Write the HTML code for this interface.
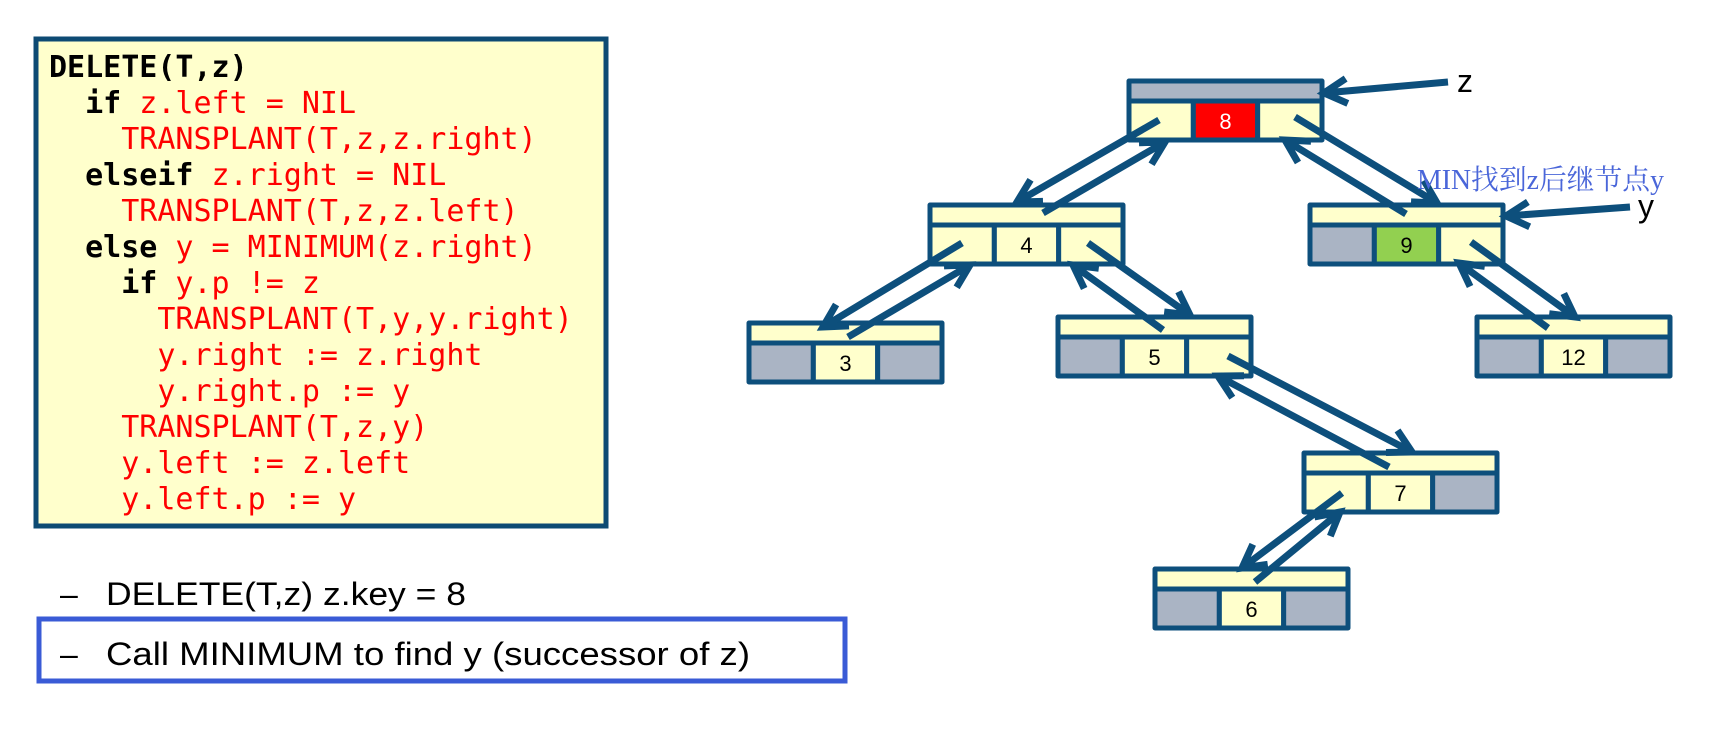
<!DOCTYPE html>
<html><head><meta charset="utf-8">
<style>
html,body{margin:0;padding:0;background:#fff;}
svg{display:block;}
.code{font-family:"DejaVu Sans Mono","Liberation Mono",monospace;font-size:30px;}
.kw{font-weight:bold;fill:#000;}
.rd{fill:#ff0000;}
</style></head>
<body>
<svg id="s" width="1733" height="729" viewBox="0 0 1733 729" xmlns="http://www.w3.org/2000/svg">
  <rect x="36" y="39" width="570" height="487" fill="#ffffcc" stroke="#0d4a73" stroke-width="5"/>
  <g class="code" id="code"></g>

  <text x="60" y="605" font-family="Liberation Sans, sans-serif" font-size="32">–</text>
  <text x="106" y="605" font-family="Liberation Sans, sans-serif" font-size="32" textLength="360" lengthAdjust="spacingAndGlyphs">DELETE(T,z) z.key = 8</text>
  <rect x="39" y="619" width="806" height="62" fill="none" stroke="#3a5bd6" stroke-width="5"/>
  <text x="60" y="665" font-family="Liberation Sans, sans-serif" font-size="32">–</text>
  <text x="106" y="665" font-family="Liberation Sans, sans-serif" font-size="32" textLength="644" lengthAdjust="spacingAndGlyphs">Call MINIMUM to find y (successor of z)</text>

  <g id="nodes"></g>
  <g id="arrows"></g>

  <text x="1457" y="92" font-family="Liberation Sans, sans-serif" font-size="32">z</text>
  <text x="1638" y="217" font-family="Liberation Sans, sans-serif" font-size="32">y</text>
  <text x="1417" y="189" font-family="Liberation Serif, Noto Serif CJK SC, serif" font-size="28" fill="#4a66d9" textLength="247" lengthAdjust="spacingAndGlyphs">MIN找到z后继节点y</text>
</svg>
<script>
const codeLines = [
  [0,[["DELETE(T,z)","kw"]]],
  [2,[["if ","kw"],["z.left = NIL","rd"]]],
  [4,[["TRANSPLANT(T,z,z.right)","rd"]]],
  [2,[["elseif ","kw"],["z.right = NIL","rd"]]],
  [4,[["TRANSPLANT(T,z,z.left)","rd"]]],
  [2,[["else ","kw"],["y = MINIMUM(z.right)","rd"]]],
  [4,[["if ","kw"],["y.p != z","rd"]]],
  [6,[["TRANSPLANT(T,y,y.right)","rd"]]],
  [6,[["y.right := z.right","rd"]]],
  [6,[["y.right.p := y","rd"]]],
  [4,[["TRANSPLANT(T,z,y)","rd"]]],
  [4,[["y.left := z.left","rd"]]],
  [4,[["y.left.p := y","rd"]]]
];
const NS="http://www.w3.org/2000/svg";
const cg=document.getElementById('code');
codeLines.forEach((ln,i)=>{
  const t=document.createElementNS(NS,'text');
  t.setAttribute('x',49+ln[0]*18.06);
  t.setAttribute('y',77+i*36);
  
  
  t.setAttribute('xml:space','preserve');
  ln[1].forEach(p=>{const s=document.createElementNS(NS,'tspan');s.setAttribute('class',p[1]);s.textContent=p[0];t.appendChild(s);});
  cg.appendChild(t);
});

const nodeKeys = ["8","4","9","3","5","12","7","6"];
const nodeX = [1129,930,1310,749,1058,1477,1304,1155];
const nodeY = [81,205,205,323,317,317,453,569];
const Y="#ffffcc",G="#aab4c4";
const nodeFills = [[G,Y,"#ff0000",Y],[Y,Y,Y,Y],[Y,G,"#92d050",Y],[Y,G,Y,G],[Y,G,Y,Y],[Y,G,Y,G],[Y,Y,Y,G],[Y,G,Y,G]];
const ng=document.getElementById('nodes');
const W=193,H=59,TB=20,C="#0d4f7c";
function rect(g,x,y,w,h,f){const r=document.createElementNS(NS,'rect');r.setAttribute('x',x);r.setAttribute('y',y);r.setAttribute('width',w);r.setAttribute('height',h);r.setAttribute('fill',f);r.setAttribute('stroke',C);r.setAttribute('stroke-width',5);r.setAttribute('stroke-linejoin','round');g.appendChild(r);return r;}
nodeKeys.forEach((k,i)=>{
  const g=document.createElementNS(NS,'g');
  
  
  const x=nodeX[i],y=nodeY[i],f=nodeFills[i];
  rect(g,x,y,W,TB,f[0]);
  const cw=W/3;
  for(let c=0;c<3;c++) rect(g,x+c*cw,y+TB,cw,H-TB,f[c+1]);
  const t=document.createElementNS(NS,'text');
  t.setAttribute('x',x+W/2);t.setAttribute('y',y+TB+28);
  t.setAttribute('text-anchor','middle');
  t.setAttribute('font-family','Liberation Sans, sans-serif');
  t.setAttribute('font-size','22');
  t.setAttribute('fill',i===0?'#fff':'#000');
  
  
  t.textContent=k;
  g.appendChild(t);
  ng.appendChild(g);
});

const arrowSegs = [
  [1159,120,1017,202],[1043,213,1165,142],
  [1295,117,1437,203],[1406,214,1285,140],
  [962,243,823,327],[848,337,970,265],
  [1088,243,1190,315],[1163,330,1073,265],
  [1471,242,1575,317],[1548,328,1459,263],
  [1228,356,1412,452],[1389,467,1218,376],
  [1342,493,1242,568],[1255,582,1340,512],
  [1448,82,1324,93],[1630,207,1506,216]
];
const ag=document.getElementById('arrows');
arrowSegs.forEach(s=>{
  const [x1,y1,x2,y2]=s;
  const a=Math.atan2(y2-y1,x2-x1),L=26,sp=0.5;
  const p=document.createElementNS(NS,'path');
  const hx1=x2-L*Math.cos(a-sp),hy1=y2-L*Math.sin(a-sp),hx2=x2-L*Math.cos(a+sp),hy2=y2-L*Math.sin(a+sp);
  p.setAttribute('d',`M${x1},${y1}L${x2},${y2}M${hx1},${hy1}L${x2},${y2}L${hx2},${hy2}`);
  p.setAttribute('stroke',C);p.setAttribute('stroke-width',7);p.setAttribute('fill','none');
  
  
  ag.appendChild(p);
});
</script>
</body></html>
